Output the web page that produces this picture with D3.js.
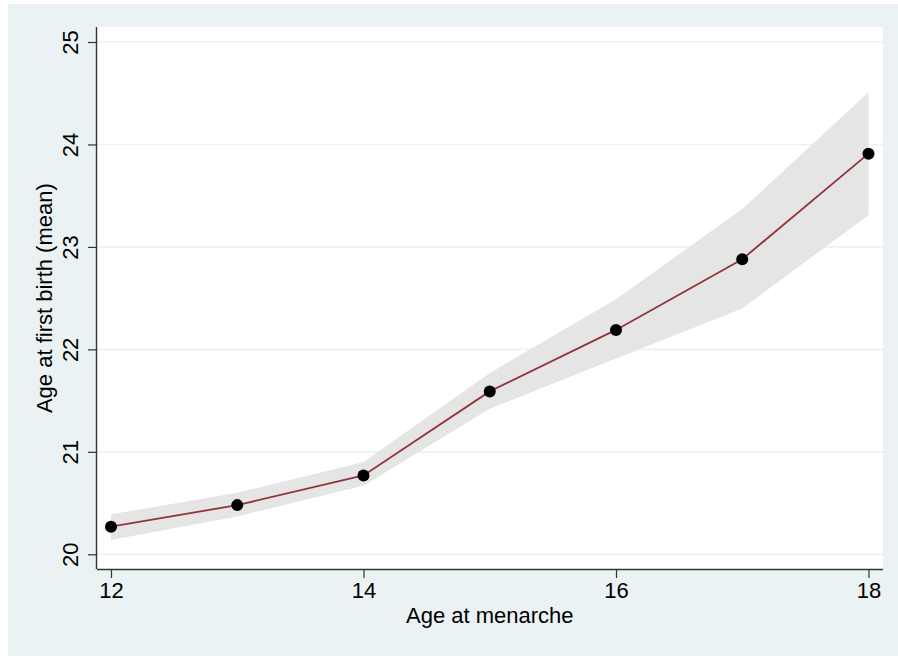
<!DOCTYPE html>
<html>
<head>
<meta charset="utf-8">
<script src="https://cdn.jsdelivr.net/npm/d3@7"></script>
<style>
  html, body { margin: 0; padding: 0; background: #ffffff; }
  svg { display: block; }
  text { font-family: "Liberation Sans", Arial, Helvetica, sans-serif; fill: #000; }
</style>
</head>
<body>
<svg id="chart" width="898" height="656"></svg>
<script>
const ageMenarche = [12, 13, 14, 15, 16, 17, 18];
const meanAgeFirstBirth = [20.27, 20.48, 20.77, 21.59, 22.19, 22.88, 23.91];
const ciLower = [20.14, 20.37, 20.67, 21.42, 21.91, 22.40, 23.31];
const ciUpper = [20.39, 20.60, 20.90, 21.77, 22.49, 23.37, 24.51];
const xTicks = [12, 14, 16, 18];
const yTicks = [20, 21, 22, 23, 24, 25];
const xTitle = "Age at menarche";
const yTitle = "Age at first birth (mean)";

const svg = d3.select("#chart");

// outer background
svg.append("rect").attr("x", 8).attr("y", 4).attr("width", 890).attr("height", 652)
  .attr("fill", "#eaf2f3");

const plot = { left: 97, right: 883, top: 27, bottom: 569 };
svg.append("rect").attr("x", plot.left).attr("y", plot.top)
  .attr("width", plot.right - plot.left).attr("height", plot.bottom - plot.top)
  .attr("fill", "#ffffff");

const x = d3.scaleLinear().domain([12, 18]).range([111, 868.5]);
const y = d3.scaleLinear().domain([20, 25]).range([554.3, 42]);

// gridlines
svg.append("g").selectAll("line").data(yTicks).join("line")
  .attr("x1", plot.left).attr("x2", plot.right)
  .attr("y1", d => y(d)).attr("y2", d => y(d))
  .attr("stroke", "#eaf2f3").attr("stroke-width", 1.6);

const data = ageMenarche.map((a, i) => ({ a, m: meanAgeFirstBirth[i], lo: ciLower[i], hi: ciUpper[i] }));

// CI band
svg.append("path").datum(data)
  .attr("d", d3.area().x(d => x(d.a)).y0(d => y(d.lo)).y1(d => y(d.hi)))
  .attr("fill", "#e5e5e5");

// line
svg.append("path").datum(data)
  .attr("d", d3.line().x(d => x(d.a)).y(d => y(d.m)))
  .attr("fill", "none").attr("stroke", "#90353b").attr("stroke-width", 1.8);

// points
svg.append("g").selectAll("circle").data(data).join("circle")
  .attr("cx", d => x(d.a)).attr("cy", d => y(d.m)).attr("r", 6)
  .attr("fill", "#000");

// axes
const xAxis = d3.axisBottom(x).tickValues(xTicks).tickSize(9).tickPadding(4).tickFormat(d3.format("d"));
const gx = svg.append("g").attr("transform", `translate(0,${plot.bottom})`).call(xAxis);
gx.select(".domain").attr("d", `M${plot.left},0.5H${plot.right}`).attr("stroke", "#333").attr("stroke-width", 1.4);
gx.selectAll(".tick line").attr("stroke", "#333").attr("stroke-width", 1.2);
gx.selectAll(".tick text").attr("font-size", 22).attr("font-family", "Liberation Sans, Arial, sans-serif").attr("fill", "#000");

const yAxis = d3.axisLeft(y).tickValues(yTicks).tickSize(9).tickFormat(d3.format("d"));
const gy = svg.append("g").attr("transform", `translate(${plot.left},0)`).call(yAxis);
gy.select(".domain").attr("d", `M-0.5,${plot.top}V${plot.bottom}`).attr("stroke", "#333").attr("stroke-width", 1.4);
gy.selectAll(".tick line").attr("stroke", "#333").attr("stroke-width", 1.2);
gy.selectAll(".tick text")
  .attr("font-size", 22).attr("font-family", "Liberation Sans, Arial, sans-serif").attr("fill", "#000")
  .attr("x", null).attr("dy", null)
  .attr("transform", "translate(-19,0) rotate(-90)")
  .attr("text-anchor", "middle").attr("dominant-baseline", "auto");

// titles
svg.append("text").attr("x", x(15)).attr("y", 623).attr("text-anchor", "middle")
  .attr("font-size", 22).text(xTitle);
svg.append("text").attr("transform", `translate(52,${y(22.5)}) rotate(-90)`).attr("text-anchor", "middle")
  .attr("font-size", 22).text(yTitle);
</script>
</body>
</html>
